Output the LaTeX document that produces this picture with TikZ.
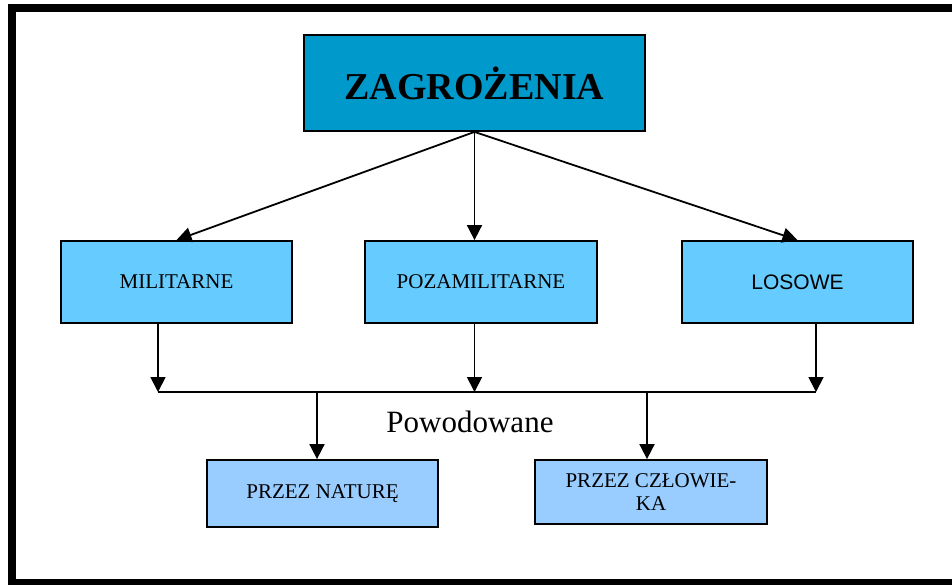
\documentclass[tikz,border=0pt]{standalone}
\usepackage{fontspec}
\setmainfont{Liberation Serif}
\newfontfamily\arialfont{Liberation Sans}
\usetikzlibrary{arrows.meta}
\definecolor{topblue}{HTML}{0099CC}
\definecolor{midblue}{HTML}{66CCFF}
\definecolor{lowblue}{HTML}{99CCFF}
\tikzset{box/.style={
    draw, line width=1.8pt, rectangle, inner sep=0pt, align=center,
    font=\fontsize{21}{23}\selectfont},
  arr/.style={line width=1.8pt, -{Triangle[length=15pt,width=15pt]}}
}

\begin{document}
\begin{tikzpicture}[x=1pt, y=-1pt]
        \useasboundingbox (0,0) rectangle (952,584);
        %outer frame, cut at the right and bottom
        \begin{scope}
         \clip (0,0) rectangle (952,584);
         \draw[line width=8pt] (12,8) rectangle (975,583);
        \end{scope}

        %boxes
        \node[box, fill=topblue, minimum width=341pt, minimum height=96pt,
              font=\fontsize{38}{40}\selectfont\bfseries](zag) at (474.5,83){ZAGROŻENIA};
        \node[box, fill=midblue, minimum width=231pt, minimum height=82pt](mil) at (176.5,282){MILITARNE};
        \node[box, fill=midblue, minimum width=232pt, minimum height=82pt](poz) at (481,282){POZAMILITARNE};
        \node[box, fill=midblue, minimum width=231pt, minimum height=82pt,
              font=\fontsize{21}{23}\selectfont\arialfont](los) at (797.5,282){LOSOWE};
        \node[box, fill=lowblue, minimum width=231pt, minimum height=67pt](nat) at (322.5,493.5){PRZEZ NATURĘ};
        \node[box, fill=lowblue, minimum width=232pt, minimum height=64pt](czl) at (651,492){PRZEZ CZŁOWIE-\\KA};
        \node[font=\fontsize{31}{33}\selectfont](pow) at (470,422){Powodowane};

        %upper arrows
        \draw[arr] (zag.south) -- (mil.north);
        \draw[arr] (zag.south) -- (zag.south |- poz.north);
        \draw[arr] (zag.south) -- (los.north);

        %bus
        \coordinate (busL) at (158,392);
        \coordinate (busR) at (816,392);
        \draw[line width=1.8pt] (busL) -- (busR);
        \draw[arr] (mil.south -| busL) -- (busL);
        \draw[arr] (zag.south |- poz.south) -- (zag.south |- busL);
        \draw[arr] (los.south -| busR) -- (busR);

        %lower arrows
        \draw[arr] (nat.north -| 317,0) ++(0,-68) -- (nat.north -| 317,0);
        \draw[arr] (czl.north -| 647,0) ++(0,-68) -- (czl.north -| 647,0);
\end{tikzpicture}
\end{document}
